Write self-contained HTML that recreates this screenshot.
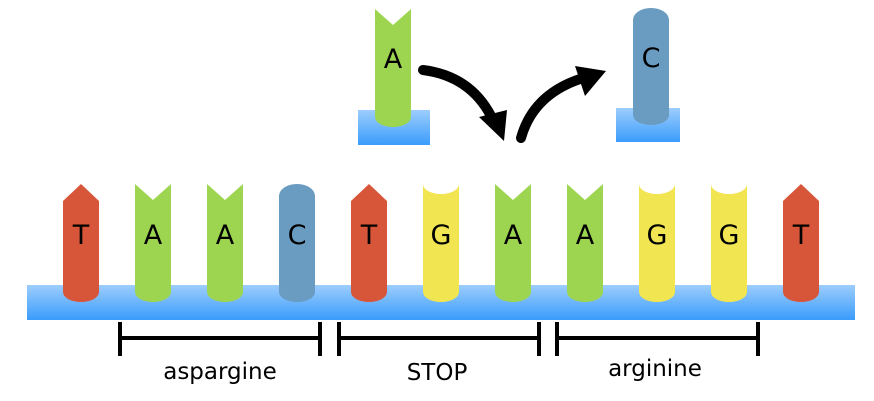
<!DOCTYPE html>
<html><head><meta charset="utf-8"><style>body{margin:0;background:#fff}svg{display:block}
.L{font:27px "DejaVu Sans","Liberation Sans",sans-serif;}
.S{font:23px "DejaVu Sans","Liberation Sans",sans-serif;}
</style></head><body>
<svg width="874" height="401" viewBox="0 0 874 401" xmlns="http://www.w3.org/2000/svg">
<defs>
<linearGradient id="b" x1="0" y1="0" x2="0" y2="1"><stop offset="0" stop-color="#9dcdfd"/><stop offset="1" stop-color="#3a9cfb"/></linearGradient>
</defs>
<rect x="27" y="285" width="828" height="35" fill="url(#b)"/>
<rect x="358" y="110" width="72" height="35" fill="url(#b)"/>
<rect x="616" y="108" width="64" height="34" fill="url(#b)"/>
<path d="M63,201 L81,184 L99,201 L99,292 A18,10 0 0 1 63,292 Z" fill="#d75639"/>
<path d="M135,184 L153,200 L171,184 L171,292 A18,10 0 0 1 135,292 Z" fill="#9dd551"/>
<path d="M207,184 L225,200 L243,184 L243,292 A18,10 0 0 1 207,292 Z" fill="#9dd551"/>
<path d="M279,196 A18,12 0 0 1 315,196 L315,292 A18,10 0 0 1 279,292 Z" fill="#6a9bc1"/>
<path d="M351,201 L369,184 L387,201 L387,292 A18,10 0 0 1 351,292 Z" fill="#d75639"/>
<path d="M423,184 A18,10 0 0 0 459,184 L459,292 A18,10 0 0 1 423,292 Z" fill="#f1e552"/>
<path d="M495,184 L513,200 L531,184 L531,292 A18,10 0 0 1 495,292 Z" fill="#9dd551"/>
<path d="M567,184 L585,200 L603,184 L603,292 A18,10 0 0 1 567,292 Z" fill="#9dd551"/>
<path d="M639,184 A18,10 0 0 0 675,184 L675,292 A18,10 0 0 1 639,292 Z" fill="#f1e552"/>
<path d="M711,184 A18,10 0 0 0 747,184 L747,292 A18,10 0 0 1 711,292 Z" fill="#f1e552"/>
<path d="M783,201 L801,184 L819,201 L819,292 A18,10 0 0 1 783,292 Z" fill="#d75639"/>
<path d="M375,9 L393,25 L411,9 L411,117 A18,10 0 0 1 375,117 Z" fill="#9dd551"/>
<path d="M633,20 A18,12 0 0 1 669,20 L669,115 A18,10 0 0 1 633,115 Z" fill="#6a9bc1"/>
<g class="L" text-anchor="middle" fill="#000">
<text x="81" y="244">T</text><text x="153" y="244">A</text><text x="225" y="244">A</text><text x="297" y="244">C</text>
<text x="369" y="244">T</text><text x="441" y="244">G</text><text x="513" y="244">A</text><text x="585" y="244">A</text>
<text x="657" y="244">G</text><text x="729" y="244">G</text><text x="801" y="244">T</text>
<text x="393" y="68">A</text><text x="651" y="67">C</text>
</g>
<g stroke="#000" stroke-width="10" fill="none" stroke-linecap="round">
<path d="M423,70 Q470,76 491,116"/>
<path d="M521,138 Q533,95 580,79"/>
</g>
<polygon points="479,117 507,110 504,141" fill="#000"/>
<polygon points="575,66 606,71 585,96" fill="#000"/>
<g stroke="#000" stroke-width="4">
<line x1="120" y1="338" x2="320" y2="338"/><line x1="120" y1="322" x2="120" y2="356"/><line x1="320" y1="322" x2="320" y2="356"/>
<line x1="339" y1="338" x2="539" y2="338"/><line x1="339" y1="322" x2="339" y2="356"/><line x1="539" y1="322" x2="539" y2="356"/>
<line x1="557" y1="338" x2="758" y2="338"/><line x1="557" y1="322" x2="557" y2="356"/><line x1="758" y1="322" x2="758" y2="356"/>
</g>
<g class="S" text-anchor="middle" fill="#000">
<text x="220" y="379">aspargine</text>
<text x="437" y="380">STOP</text>
<text x="655" y="376">arginine</text>
</g>
</svg>
</body></html>
